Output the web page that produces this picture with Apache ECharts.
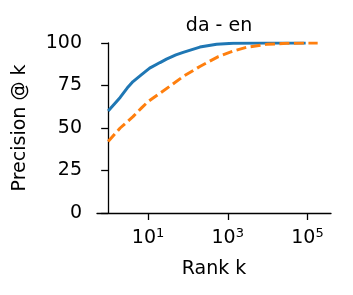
<!DOCTYPE html>
<html>
<head>
<meta charset="utf-8">
<script src="https://cdn.jsdelivr.net/npm/echarts@6/dist/echarts.min.js"></script>
<style>
  html, body { margin: 0; padding: 0; background: #fff; }
  #chart { width: 353px; height: 295px; }
</style>
</head>
<body>
<div id="chart"></div>
<script>
var rankBlue = [1, 2, 3, 4.2, 7, 11, 20, 29, 50, 76, 200, 525, 1380, 10000, 90000];
var precBlue = [60, 68, 73.5, 77.3, 81.5, 85.2, 88.5, 90.5, 93, 94.5, 97.6, 99.3, 99.8, 100, 100];

var rankOrange = [1, 2, 4.2, 7, 10, 20, 40, 76, 200, 580, 1380, 3000, 9500, 30000, 100000, 180000];
var precOrange = [42, 50, 56.7, 62, 65.5, 70.5, 75.5, 80.3, 86.2, 92, 95.3, 97.5, 99.2, 99.8, 100, 100];

var xTicks = [1, 3, 5];      // exponents of 10
var yTicks = [0, 25, 50, 75, 100];

var font = 'DejaVu Sans';

function pairs(rank, prec) {
  return rank.map(function (k, i) { return [Math.log10(k), prec[i]]; });
}

var chartDom = document.getElementById('chart');
var myChart = echarts.init(chartDom, null, {renderer: 'canvas'});

var option = {
  animation: false,
  title: {
    text: 'da - en',
    left: 214,
    textAlign: 'center',
    top: 12,
    textStyle: {fontFamily: font, fontSize: 19, fontWeight: 'normal', color: '#000'}
  },
  grid: {left: 97, right: 22, top: 43, bottom: 82},
  xAxis: {
    type: 'value',
    min: -0.28,
    max: 5.59,
    splitLine: {show: false},
    axisLine: {lineStyle: {color: '#000', width: 1.3}},
    axisTick: {
      customValues: xTicks,
      length: 7,
      lineStyle: {color: '#000', width: 1.3}
    },
    axisLabel: {
      customValues: xTicks,
      margin: 14,
      fontFamily: font,
      fontSize: 19,
      color: '#000',
      formatter: function (v) { return '10{sup|' + v + '}'; },
      rich: {
        sup: {fontFamily: font, fontSize: 13, color: '#000', verticalAlign: 'top', padding: [0, 0, 10, 0]}
      }
    },
    name: 'Rank k',
    nameLocation: 'middle',
    nameGap: 47,
    nameTextStyle: {fontFamily: font, fontSize: 19, color: '#000'}
  },
  yAxis: {
    type: 'value',
    min: yTicks[0],
    max: yTicks[yTicks.length - 1],
    interval: 25,
    splitLine: {show: false},
    axisLine: {show: true, lineStyle: {color: '#000', width: 1.3}},
    axisTick: {show: true, length: 7, lineStyle: {color: '#000', width: 1.3}},
    axisLabel: {margin: 15, fontFamily: font, fontSize: 19, color: '#000'},
    name: 'Precision @ k',
    nameLocation: 'middle',
    nameGap: 67,
    nameTextStyle: {fontFamily: font, fontSize: 19, color: '#000'}
  },
  series: [
    {
      type: 'line',
      data: pairs(rankBlue, precBlue),
      showSymbol: false,
      lineStyle: {color: '#1f77b4', width: 3},
      z: 2
    },
    {
      type: 'line',
      data: pairs(rankOrange, precOrange),
      showSymbol: false,
      lineStyle: {color: '#ff7f0e', width: 3, type: [10, 4.5]},
      z: 3
    }
  ]
};

myChart.setOption(option);
</script>
</body>
</html>
